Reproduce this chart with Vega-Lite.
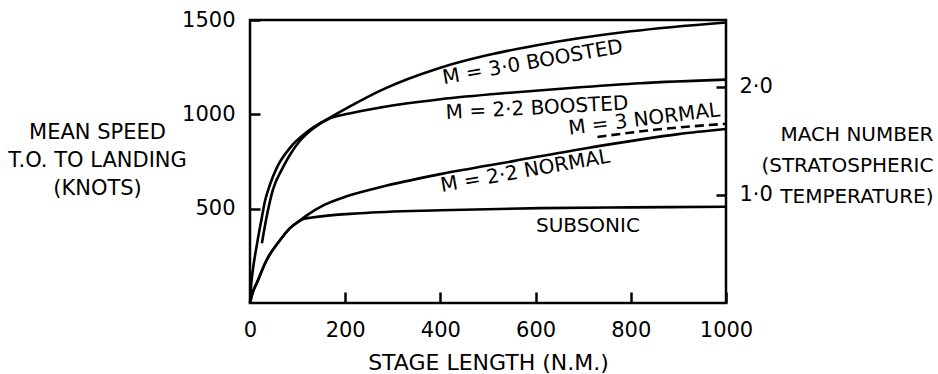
{
  "$schema": "https://vega.github.io/schema/vega-lite/v6.json",
  "width": 476,
  "height": 283,
  "autosize": {"type": "none"},
  "padding": {"left": 250, "top": 20, "right": 212, "bottom": 71},
  "background": "white",
  "config": {
    "font": "DejaVu Sans",
    "view": {"stroke": "black", "strokeWidth": 2.5},
    "axis": {
      "domain": false, "grid": false, "labelFlush": false, "labelOverlap": false,
      "tickColor": "black", "tickWidth": 2.5,
      "labelColor": "black", "labelFontSize": 21, "labelFont": "DejaVu Sans",
      "titleColor": "black", "titleFontSize": 21, "titleFontWeight": "normal", "titleFont": "DejaVu Sans"
    }
  },
  "datasets": {
    "curves": [
      {"series": "M=3.0 boosted", "x": 0, "speed": 0},
      {"series": "M=3.0 boosted", "x": 3, "speed": 110},
      {"series": "M=3.0 boosted", "x": 6, "speed": 175},
      {"series": "M=3.0 boosted", "x": 15, "speed": 317},
      {"series": "M=3.0 boosted", "x": 25, "speed": 455},
      {"series": "M=3.0 boosted", "x": 31, "speed": 535},
      {"series": "M=3.0 boosted", "x": 42, "speed": 628},
      {"series": "M=3.0 boosted", "x": 57, "speed": 720},
      {"series": "M=3.0 boosted", "x": 84, "speed": 822},
      {"series": "M=3.0 boosted", "x": 120, "speed": 907},
      {"series": "M=3.0 boosted", "x": 168, "speed": 982},
      {"series": "M=3.0 boosted", "x": 210, "speed": 1042},
      {"series": "M=3.0 boosted", "x": 275, "speed": 1127},
      {"series": "M=3.0 boosted", "x": 400, "speed": 1247},
      {"series": "M=3.0 boosted", "x": 500, "speed": 1314},
      {"series": "M=3.0 boosted", "x": 600, "speed": 1365},
      {"series": "M=3.0 boosted", "x": 800, "speed": 1440},
      {"series": "M=3.0 boosted", "x": 1000, "speed": 1487},
      {"series": "M=2.2 boosted", "x": 25, "speed": 317},
      {"series": "M=2.2 boosted", "x": 36, "speed": 470},
      {"series": "M=2.2 boosted", "x": 48, "speed": 600},
      {"series": "M=2.2 boosted", "x": 67, "speed": 708},
      {"series": "M=2.2 boosted", "x": 84, "speed": 786},
      {"series": "M=2.2 boosted", "x": 105, "speed": 860},
      {"series": "M=2.2 boosted", "x": 130, "speed": 920},
      {"series": "M=2.2 boosted", "x": 168, "speed": 979},
      {"series": "M=2.2 boosted", "x": 200, "speed": 1000},
      {"series": "M=2.2 boosted", "x": 275, "speed": 1037},
      {"series": "M=2.2 boosted", "x": 400, "speed": 1080},
      {"series": "M=2.2 boosted", "x": 553, "speed": 1116},
      {"series": "M=2.2 boosted", "x": 700, "speed": 1145},
      {"series": "M=2.2 boosted", "x": 819, "speed": 1165},
      {"series": "M=2.2 boosted", "x": 1000, "speed": 1184},
      {"series": "M=2.2 normal", "x": 0, "speed": 0},
      {"series": "M=2.2 normal", "x": 5, "speed": 50},
      {"series": "M=2.2 normal", "x": 15, "speed": 110},
      {"series": "M=2.2 normal", "x": 35, "speed": 228},
      {"series": "M=2.2 normal", "x": 63, "speed": 333},
      {"series": "M=2.2 normal", "x": 84, "speed": 397},
      {"series": "M=2.2 normal", "x": 101, "speed": 430},
      {"series": "M=2.2 normal", "x": 120, "speed": 466},
      {"series": "M=2.2 normal", "x": 153, "speed": 516},
      {"series": "M=2.2 normal", "x": 200, "speed": 563},
      {"series": "M=2.2 normal", "x": 275, "speed": 615},
      {"series": "M=2.2 normal", "x": 400, "speed": 683},
      {"series": "M=2.2 normal", "x": 553, "speed": 752},
      {"series": "M=2.2 normal", "x": 700, "speed": 818},
      {"series": "M=2.2 normal", "x": 819, "speed": 866},
      {"series": "M=2.2 normal", "x": 900, "speed": 895},
      {"series": "M=2.2 normal", "x": 1000, "speed": 922},
      {"series": "Subsonic", "x": 0, "speed": 0},
      {"series": "Subsonic", "x": 5, "speed": 50},
      {"series": "Subsonic", "x": 15, "speed": 110},
      {"series": "Subsonic", "x": 35, "speed": 228},
      {"series": "Subsonic", "x": 63, "speed": 333},
      {"series": "Subsonic", "x": 84, "speed": 397},
      {"series": "Subsonic", "x": 101, "speed": 430},
      {"series": "Subsonic", "x": 112, "speed": 445},
      {"series": "Subsonic", "x": 130, "speed": 453},
      {"series": "Subsonic", "x": 231, "speed": 476},
      {"series": "Subsonic", "x": 400, "speed": 492},
      {"series": "Subsonic", "x": 611, "speed": 503},
      {"series": "Subsonic", "x": 800, "speed": 507},
      {"series": "Subsonic", "x": 1000, "speed": 510}
    ],
    "dashed": [
      {"series": "M=3 normal", "x": 730, "speed": 880},
      {"series": "M=3 normal", "x": 850, "speed": 918},
      {"series": "M=3 normal", "x": 1000, "speed": 950}
    ],
    "labels": [
      {"label": "M = 3·0 BOOSTED", "x": 594, "speed": 1275},
      {"label": "M = 2·2 BOOSTED", "x": 603, "speed": 1032},
      {"label": "M = 3  NORMAL", "x": 828, "speed": 973},
      {"label": "M = 2·2 NORMAL", "x": 578, "speed": 698},
      {"label": "SUBSONIC", "x": 710, "speed": 407}
    ]
  },
  "resolve": {"scale": {"y": "independent"}},
  "layer": [
    {
      "data": {"name": "curves"},
      "mark": {"type": "line", "color": "black", "strokeWidth": 2.6, "interpolate": "monotone"},
      "encoding": {
        "x": {"field": "x", "type": "quantitative", "scale": {"domain": [0, 1000], "nice": false},
          "axis": {"orient": "bottom", "values": [0, 200, 400, 600, 800, 1000], "format": "d", "tickSize": -11, "labelPadding": 27,
            "title": "STAGE LENGTH (N.M.)", "titleFontSize": 22, "titleBaseline": "alphabetic", "titleY": 66}},
        "y": {"field": "speed", "type": "quantitative", "scale": {"domain": [0, 1500], "nice": false},
          "axis": {"orient": "left", "values": [500, 1000, 1500], "format": "d", "tickSize": -10, "labelPadding": 25,
            "title": ["MEAN SPEED", "T.O. TO LANDING", "(KNOTS)"], "titleAngle": 0, "titleAlign": "center",
            "titleBaseline": "alphabetic", "titleX": -153, "titleY": 118, "titleLineHeight": 28}},
        "detail": {"field": "series"}
      }
    },
    {
      "data": {"name": "dashed"},
      "mark": {"type": "line", "color": "black", "strokeWidth": 2.6, "strokeDash": [9, 5], "interpolate": "monotone"},
      "encoding": {
        "x": {"field": "x", "type": "quantitative"},
        "y": {"field": "speed", "type": "quantitative", "scale": {"domain": [0, 1500], "nice": false},
          "axis": {"orient": "right", "values": [573, 1146], "labelExpr": "datum.value > 800 ? '2·0' : '1·0'",
            "tickSize": -10, "labelPadding": 23,
            "title": ["MACH NUMBER", "(STRATOSPHERIC", "TEMPERATURE)"], "titleAngle": 0, "titleAlign": "right",
            "titleFontSize": 20, "titleBaseline": "alphabetic", "titleX": 207, "titleY": 120, "titleLineHeight": 31}}
      }
    },
    {
      "data": {"name": "labels"},
      "transform": [{"filter": "datum.label == 'M = 3·0 BOOSTED'"}],
      "mark": {"type": "text", "fontSize": 20, "angle": -10, "color": "black", "align": "center", "baseline": "middle"},
      "encoding": {
        "x": {"field": "x", "type": "quantitative"},
        "y": {"field": "speed", "type": "quantitative", "scale": {"domain": [0, 1500], "nice": false}, "axis": null},
        "text": {"field": "label"}
      }
    },
    {
      "data": {"name": "labels"},
      "transform": [{"filter": "datum.label == 'M = 2·2 BOOSTED'"}],
      "mark": {"type": "text", "fontSize": 20, "angle": -3, "color": "black", "align": "center", "baseline": "middle"},
      "encoding": {
        "x": {"field": "x", "type": "quantitative"},
        "y": {"field": "speed", "type": "quantitative", "scale": {"domain": [0, 1500], "nice": false}, "axis": null},
        "text": {"field": "label"}
      }
    },
    {
      "data": {"name": "labels"},
      "transform": [{"filter": "datum.label == 'M = 3  NORMAL'"}],
      "mark": {"type": "text", "fontSize": 20, "angle": -7, "color": "black", "align": "center", "baseline": "middle"},
      "encoding": {
        "x": {"field": "x", "type": "quantitative"},
        "y": {"field": "speed", "type": "quantitative", "scale": {"domain": [0, 1500], "nice": false}, "axis": null},
        "text": {"field": "label"}
      }
    },
    {
      "data": {"name": "labels"},
      "transform": [{"filter": "datum.label == 'M = 2·2 NORMAL'"}],
      "mark": {"type": "text", "fontSize": 20, "angle": -10, "color": "black", "align": "center", "baseline": "middle"},
      "encoding": {
        "x": {"field": "x", "type": "quantitative"},
        "y": {"field": "speed", "type": "quantitative", "scale": {"domain": [0, 1500], "nice": false}, "axis": null},
        "text": {"field": "label"}
      }
    },
    {
      "data": {"name": "labels"},
      "transform": [{"filter": "datum.label == 'SUBSONIC'"}],
      "mark": {"type": "text", "fontSize": 20, "angle": 0, "color": "black", "align": "center", "baseline": "middle"},
      "encoding": {
        "x": {"field": "x", "type": "quantitative"},
        "y": {"field": "speed", "type": "quantitative", "scale": {"domain": [0, 1500], "nice": false}, "axis": null},
        "text": {"field": "label"}
      }
    }
  ]
}
